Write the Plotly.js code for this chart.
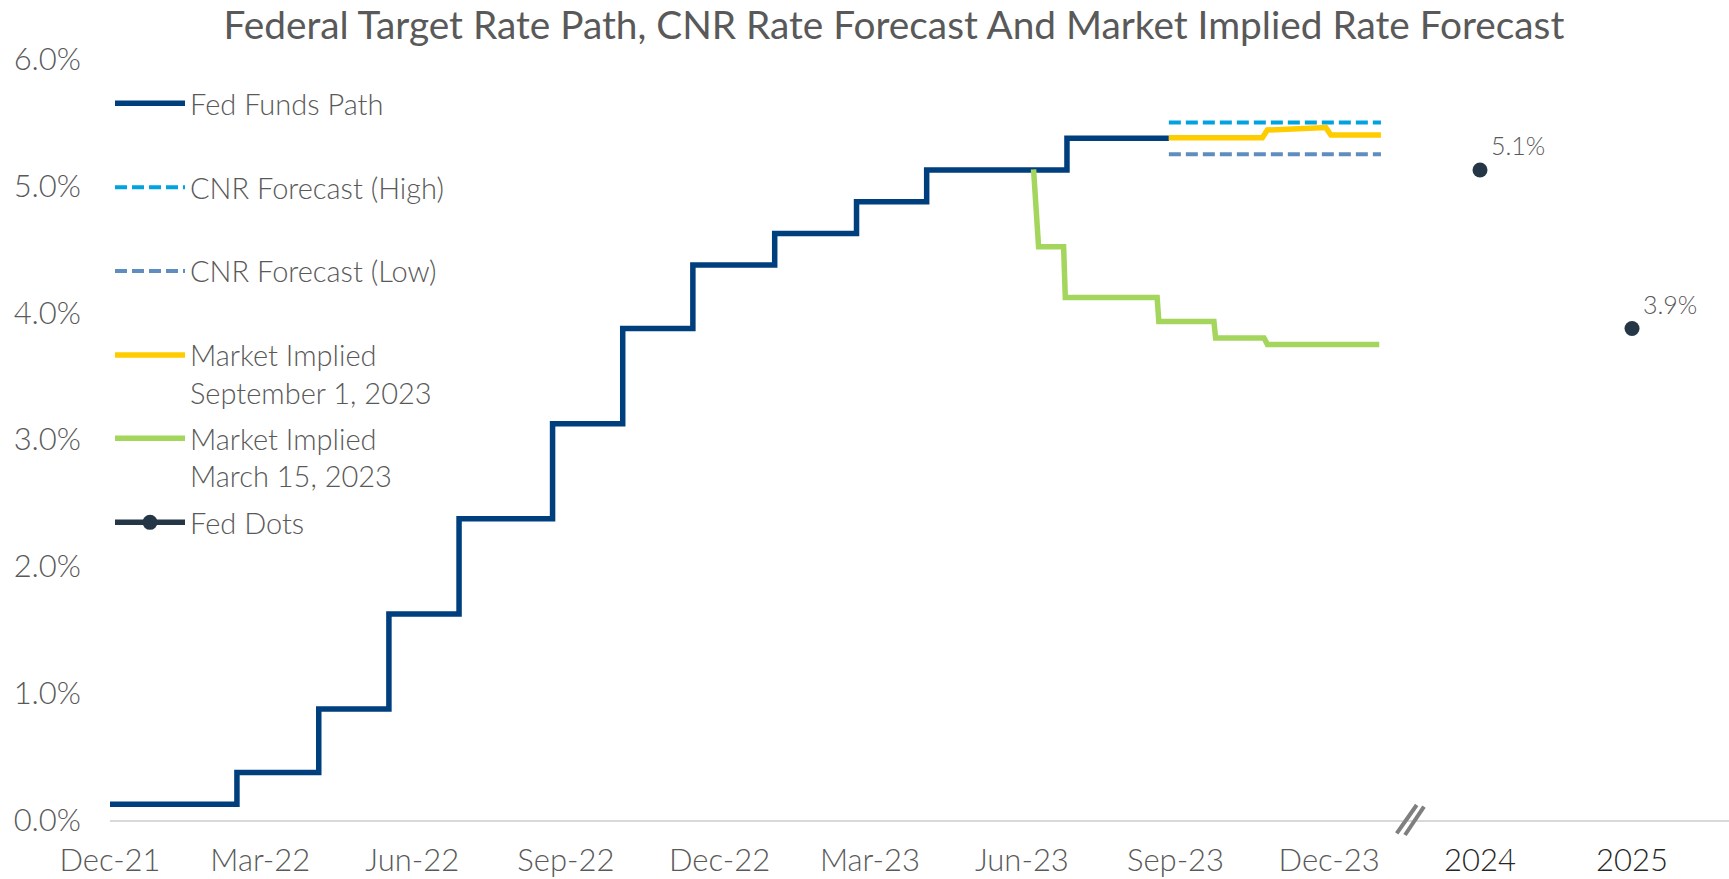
<!DOCTYPE html>
<html>
<head>
<meta charset="utf-8">
<script src="https://cdn.plot.ly/plotly-3.0.1.min.js"></script>
<style>
html,body{margin:0;padding:0;background:#ffffff;}
#chart{width:1729px;height:879px;}
</style>
</head>
<body>
<div id="chart"></div>
<script>
// ---------------- DATA ----------------
const fedPathDates = ['2021-12-31','2022-03-17','2022-05-05','2022-06-16','2022-07-28','2022-09-22','2022-11-03','2022-12-15','2023-02-02','2023-03-23','2023-05-04','2023-07-27','2023-09-26'];
const fedPathRates = [0.125,0.375,0.875,1.625,2.375,3.125,3.875,4.375,4.625,4.875,5.125,5.375,5.375];

const cnrDates = ['2023-09-26','2024-01-31'];
const cnrHighRates = [5.5,5.5];
const cnrLowRates = [5.25,5.25];

const mktSepDates = ['2023-09-26','2023-11-21','2023-11-24','2023-12-29','2024-01-01','2024-01-31'];
const mktSepRates = [5.38,5.38,5.44,5.46,5.40,5.40];

const mktMarDates = ['2023-07-07','2023-07-10','2023-07-25','2023-07-26','2023-09-19','2023-09-20','2023-10-23','2023-10-24','2023-11-22','2023-11-24','2024-01-30'];
const mktMarRates = [5.13,4.52,4.52,4.12,4.12,3.93,3.93,3.80,3.80,3.75,3.75];

const fedDotYears = ['2024','2025'];
const fedDotRates = [5.125,3.875];

const xTickDates = ['2021-12-31','2022-03-31','2022-06-30','2022-09-30','2022-12-31','2023-03-31','2023-06-30','2023-09-30','2023-12-31'];
const xTickLabels = ['Dec-21','Mar-22','Jun-22','Sep-22','Dec-22','Mar-23','Jun-23','Sep-23','Dec-23'];
const yTickVals = [0,1,2,3,4,5,6];

const seriesNames = ['Fed Funds Path','CNR Forecast (High)','CNR Forecast (Low)','Market Implied<br>September 1, 2023','Market Implied<br>March 15, 2023','Fed Dots'];
const chartTitle = 'Federal Target Rate Path, CNR Rate Forecast And Market Implied Rate Forecast';

// ---------------- LAYOUT GEOMETRY ----------------
const FIG_W = 1729, FIG_H = 879;
const M = {l:110, r:0, t:59, b:59};
const PW = FIG_W - M.l - M.r, PH = FIG_H - M.t - M.b;
const px2paperX = p => (p - M.l) / PW;
const px2paperY = p => (FIG_H - M.b - p) / PH;
const breakPx = 1411;
const splitX = px2paperX(breakPx);

const FONT = 'Lato, "Open Sans", sans-serif';
const GREY = '#595959';

const C = {
  fed:'#003F7D', high:'#00A3E0', low:'#5F8DBF', sep:'#FFCC00', mar:'#A4D65E', dots:'#253746'
};

// ---------------- TRACES ----------------
const traces = [
  {x:fedPathDates, y:fedPathRates, name:seriesNames[0], type:'scatter', mode:'lines',
   line:{color:C.fed, width:5.5, shape:'hv'}, legend:'legend', xaxis:'x', yaxis:'y'},
  {x:cnrDates, y:cnrHighRates, name:seriesNames[1], type:'scatter', mode:'lines',
   line:{color:C.high, width:4, dash:'12px,5px'}, legend:'legend2', xaxis:'x', yaxis:'y'},
  {x:cnrDates, y:cnrLowRates, name:seriesNames[2], type:'scatter', mode:'lines',
   line:{color:C.low, width:4, dash:'12px,5px'}, legend:'legend3', xaxis:'x', yaxis:'y'},
  {x:mktSepDates, y:mktSepRates, name:seriesNames[3], type:'scatter', mode:'lines',
   line:{color:C.sep, width:5.5}, legend:'legend4', xaxis:'x', yaxis:'y'},
  {x:mktMarDates, y:mktMarRates, name:seriesNames[4], type:'scatter', mode:'lines',
   line:{color:C.mar, width:5.5}, legend:'legend5', xaxis:'x', yaxis:'y'},
  {x:[fedDotYears[0], null, fedDotYears[1]], y:[fedDotRates[0], null, fedDotRates[1]],
   name:seriesNames[5], type:'scatter', mode:'lines+markers', connectgaps:false,
   line:{color:C.dots, width:5.5}, marker:{color:C.dots, size:15},
   legend:'legend6', xaxis:'x2', yaxis:'y'}
];

// ---------------- LEGENDS ----------------
const legendSymbolY = [105, 189, 272.7, 356.7, 440, 524];
const legendOffset = 27;
const legendKeys = ['legend','legend2','legend3','legend4','legend5','legend6'];
const layout = {
  width:FIG_W, height:FIG_H,
  margin:M,
  paper_bgcolor:'#ffffff', plot_bgcolor:'#ffffff',
  font:{family:FONT, color:GREY, size:29, weight:300},
  title:{text:chartTitle, xref:'container', yref:'container', x:0.517, y:1-25/FIG_H,
         xanchor:'center', yanchor:'middle', font:{family:FONT, size:38.8, color:GREY, weight:400}},
  xaxis:{type:'date', domain:[0, splitX], range:['2021-12-31','2024-02-18'],
         tickvals:xTickDates, ticktext:xTickLabels, showgrid:false, zeroline:false,
         showline:true, linecolor:'#D9D9D9', linewidth:2, ticks:'',
         tickfont:{family:FONT, size:31, color:GREY, weight:300}, ticklabelstandoff:12},
  xaxis2:{type:'category', domain:[splitX, 1], range:[-0.454, 1.638], anchor:'y',
          showgrid:false, zeroline:false, showline:true, linecolor:'#D9D9D9', linewidth:2, ticks:'',
          tickfont:{family:FONT, size:31, color:'#262626', weight:300}, ticklabelstandoff:12},
  yaxis:{range:[0,6], tickvals:yTickVals, ticktext:yTickVals.map(v=>v.toFixed(1)+'%'),
         showgrid:false, zeroline:false, showline:false, ticks:'',
         tickfont:{family:FONT, size:31, color:GREY, weight:300}, ticklabelstandoff:28},
  annotations: fedDotRates.map((r,i)=>({
    x:i, y:r, xref:'x2', yref:'y', text:r.toFixed(1)+'%',
    showarrow:false, xanchor:'left', yanchor:'bottom', xshift:9, yshift:8,
    font:{family:FONT, size:25, color:GREY, weight:300}
  })),
  shapes:[
    {type:'line', xref:'paper', yref:'paper', x0:px2paperX(1396.7), y0:px2paperY(833.3), x1:px2paperX(1416.7), y1:px2paperY(805),
     line:{color:'#7F7F7F', width:4}},
    {type:'line', xref:'paper', yref:'paper', x0:px2paperX(1405), y0:px2paperY(835), x1:px2paperX(1424), y1:px2paperY(806.7),
     line:{color:'#7F7F7F', width:4}}
  ],
  showlegend:true
};
legendKeys.forEach((k,i)=>{
  layout[k] = {x:0, xanchor:'left', y:px2paperY(legendSymbolY[i]-legendOffset), yanchor:'top',
    bgcolor:'rgba(0,0,0,0)', borderwidth:0, itemwidth:70, valign:'top',
    font:{family:FONT, size:29, color:GREY, weight:300}};
});

Plotly.newPlot('chart', traces, layout, {displayModeBar:false, responsive:false});
</script>
</body>
</html>
